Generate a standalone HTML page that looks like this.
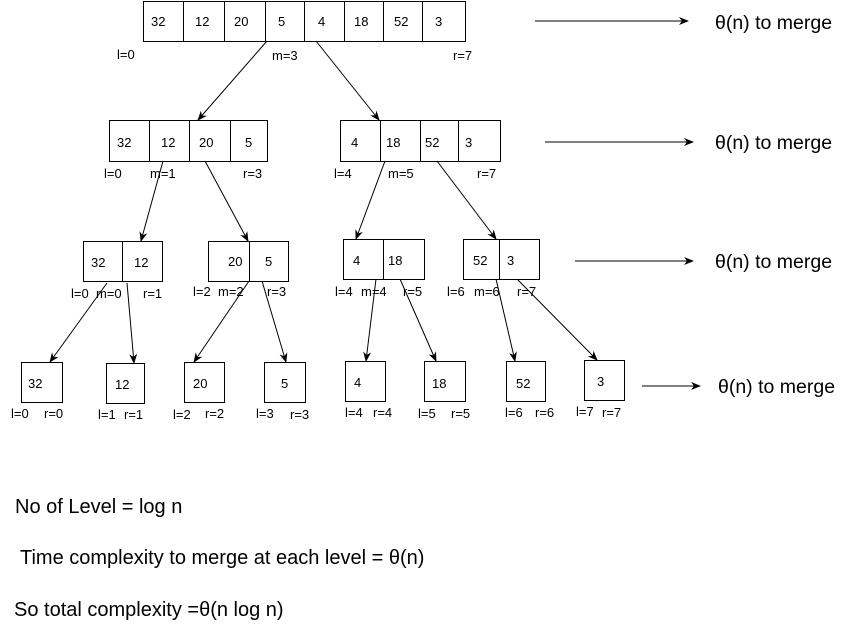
<!DOCTYPE html>
<html><head><meta charset="utf-8"><style>
html,body{margin:0;padding:0;background:#fff;}
svg text{font-family:"Liberation Sans",sans-serif;fill:#000;}
</style></head><body>
<svg width="848" height="627" xmlns="http://www.w3.org/2000/svg">
<defs><marker id="a" markerWidth="10" markerHeight="10" refX="9" refY="5" orient="auto" markerUnits="userSpaceOnUse"><path d="M0,1 L10,5 L0,9 L3,5 Z" fill="#000"/></marker></defs>
<g fill="none" stroke="#000" stroke-width="1">
<rect x="143.5" y="1.5" width="322" height="40"/>
<path d="M183.5 1.5V41.5M224.5 1.5V41.5M265.5 1.5V41.5M304.5 1.5V41.5M344.5 1.5V41.5M383.5 1.5V41.5M422.5 1.5V41.5"/>
<rect x="109.5" y="120.5" width="158" height="41"/>
<path d="M149.5 120.5V161.5M189.5 120.5V161.5M230.5 120.5V161.5"/>
<rect x="340.5" y="120.5" width="160" height="41"/>
<path d="M380.5 120.5V161.5M420.5 120.5V161.5M458.5 120.5V161.5"/>
<rect x="83.5" y="241.5" width="79" height="40"/><path d="M122.5 241.5V281.5"/>
<rect x="208.5" y="241.5" width="80" height="40"/><path d="M249.5 241.5V281.5"/>
<rect x="343.5" y="239.5" width="81" height="40"/><path d="M383.5 239.5V279.5"/>
<rect x="463.5" y="239.5" width="76" height="40"/><path d="M499.5 239.5V279.5"/>
<rect x="21.5" y="362.5" width="41" height="40"/>
<rect x="106.5" y="363.5" width="38" height="40"/>
<rect x="184.5" y="362.5" width="40" height="40"/>
<rect x="264.5" y="362.5" width="41" height="40"/>
<rect x="345.5" y="361.5" width="40" height="40"/>
<rect x="424.5" y="361.5" width="41" height="40"/>
<rect x="506.5" y="361.5" width="39" height="40"/>
<rect x="584.5" y="360.5" width="40" height="40"/>
</g>
<g stroke="#000" stroke-width="1" marker-end="url(#a)">
<line x1="267" y1="41" x2="198" y2="120"/>
<line x1="316" y1="41" x2="379" y2="120"/>
<line x1="163" y1="161" x2="141" y2="241"/>
<line x1="205" y1="161" x2="248" y2="241"/>
<line x1="385" y1="161" x2="356" y2="239"/>
<line x1="437" y1="161" x2="496" y2="239"/>
<line x1="107" y1="283" x2="50" y2="362"/>
<line x1="127" y1="283" x2="134" y2="363"/>
<line x1="249" y1="281" x2="194" y2="362"/>
<line x1="262" y1="281" x2="286" y2="362"/>
<line x1="376" y1="279" x2="366" y2="361"/>
<line x1="400" y1="279" x2="436" y2="361"/>
<line x1="496" y1="279" x2="515" y2="361"/>
<line x1="517" y1="279" x2="597" y2="360"/>
<line x1="535" y1="21" x2="688" y2="21"/>
<line x1="545" y1="142" x2="693" y2="142"/>
<line x1="575" y1="261" x2="693" y2="261"/>
<line x1="642" y1="386" x2="700" y2="386"/>
</g>
<g font-size="13">
<text x="151" y="26">32</text><text x="195" y="26">12</text><text x="234" y="26">20</text><text x="278" y="26">5</text><text x="318" y="26">4</text><text x="354" y="26">18</text><text x="394" y="26">52</text><text x="435" y="26">3</text>
<text x="117" y="59">l=0</text><text x="272" y="60">m=3</text><text x="453" y="60">r=7</text>
<text x="117" y="147">32</text><text x="161" y="147">12</text><text x="199" y="147">20</text><text x="245" y="147">5</text>
<text x="351" y="147">4</text><text x="386" y="147">18</text><text x="425" y="147">52</text><text x="465" y="147">3</text>
<text x="104" y="178">l=0</text><text x="150" y="178">m=1</text><text x="243" y="178">r=3</text>
<text x="334" y="178">l=4</text><text x="388" y="178">m=5</text><text x="477" y="178">r=7</text>
<text x="91" y="267">32</text><text x="134" y="267">12</text><text x="228" y="266">20</text><text x="265" y="266">5</text>
<text x="353" y="265">4</text><text x="388" y="265">18</text><text x="473" y="265">52</text><text x="507" y="265">3</text>
<text x="71" y="298">l=0</text><text x="96" y="298">m=0</text><text x="143" y="298">r=1</text>
<text x="193" y="296">l=2</text><text x="218" y="296">m=2</text><text x="267" y="296">r=3</text>
<text x="335" y="296">l=4</text><text x="361" y="296">m=4</text><text x="403" y="296">r=5</text>
<text x="447" y="296">l=6</text><text x="474" y="296">m=6</text><text x="517" y="296">r=7</text>
<text x="28" y="388">32</text><text x="115" y="389">12</text><text x="193" y="388">20</text><text x="281" y="388">5</text>
<text x="354" y="387">4</text><text x="432" y="388">18</text><text x="516" y="388">52</text><text x="597" y="386">3</text>
<text x="11" y="418">l=0</text><text x="44" y="418">r=0</text>
<text x="98" y="419">l=1</text><text x="124" y="419">r=1</text>
<text x="173" y="419">l=2</text><text x="205" y="418">r=2</text>
<text x="256" y="418">l=3</text><text x="290" y="419">r=3</text>
<text x="345" y="417">l=4</text><text x="373" y="417">r=4</text>
<text x="418" y="418">l=5</text><text x="451" y="418">r=5</text>
<text x="505" y="417">l=6</text><text x="535" y="417">r=6</text>
<text x="576" y="416">l=7</text><text x="602" y="417">r=7</text>
</g>
<g font-size="19.5">
<text x="715" y="29">θ(n) to merge</text>
<text x="715" y="149">θ(n) to merge</text>
<text x="715" y="268">θ(n) to merge</text>
<text x="718" y="393">θ(n) to merge</text>
</g>
<g font-size="20">
<text x="15" y="513">No of Level = log n</text>
<text x="20" y="564">Time complexity to merge at each level = θ(n)</text>
<text x="14" y="616">So total complexity =θ(n log n)</text>
</g>
</svg>
</body></html>
